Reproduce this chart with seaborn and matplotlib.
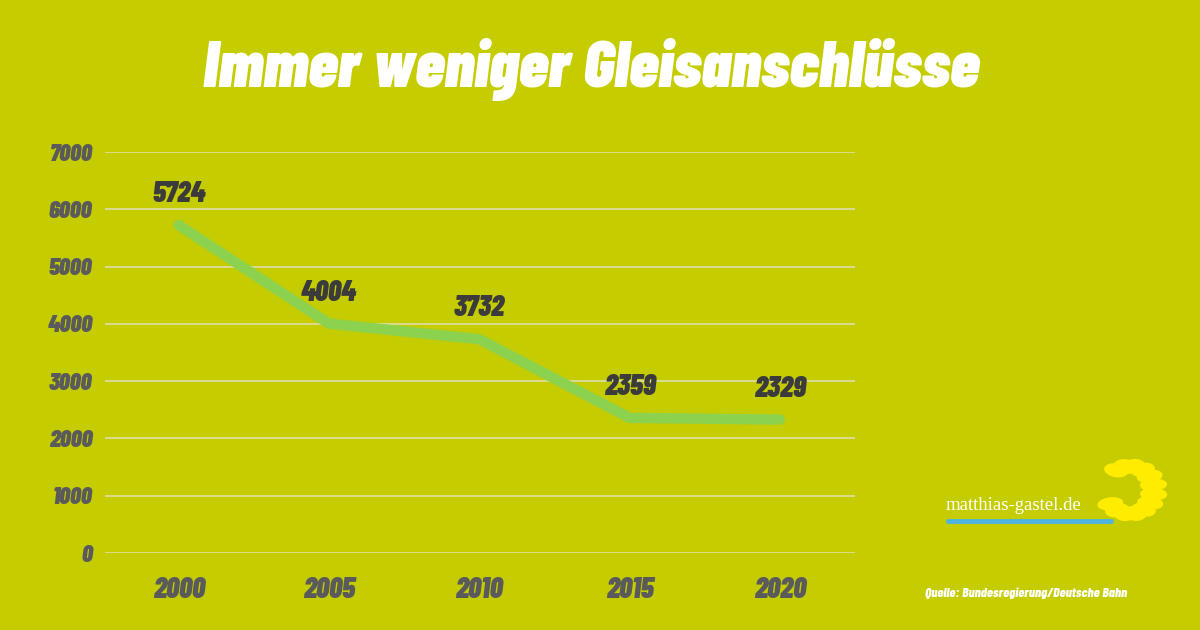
import numpy as np
import pandas as pd
import seaborn as sns
import matplotlib.pyplot as plt
from matplotlib.patches import Ellipse
from matplotlib import font_manager

# data
years = ['2000', '2005', '2010', '2015', '2020']
anschluesse = [5724, 4004, 3732, 2359, 2329]
y_ticks = [0, 1000, 2000, 3000, 4000, 5000, 6000, 7000]

df = pd.DataFrame({'pos': range(len(years)), 'year': years, 'value': anschluesse})

bg = '#c5cc00'
names = {f.name for f in font_manager.fontManager.ttflist}
cond = 'DejaVu Sans'
for cand in ['Barlow Condensed', 'Fira Sans Extra Condensed', 'Roboto Condensed', 'Anton', 'Oswald']:
    if cand in names:
        cond = cand
        break

sns.set_theme(style='white')
plt.rcParams['font.family'] = [cond, 'DejaVu Sans']

fig = plt.figure(figsize=(12, 6.3), dpi=100, facecolor=bg)
ax = fig.add_axes([0.0875, 0.1222, 0.625, 0.6365])
ax.set_facecolor(bg)

sns.lineplot(data=df, x='pos', y='value', ax=ax, color='#8dd24e', linewidth=7.5,
             solid_capstyle='round', solid_joinstyle='round', zorder=3)

for _, r in df.iterrows():
    ax.annotate(str(r['value']), (r['pos'], r['value']), xytext=(0, 13), textcoords='offset points',
                ha='center', va='bottom', fontsize=21, fontweight=900, fontstyle='italic',
                color='#3b3b3b')

ax.set_xlim(-0.49, 4.5)
ax.set_ylim(0, 7000)
ax.set_yticks(y_ticks)
ax.set_yticklabels([str(t) for t in y_ticks])
ax.set_xticks(df['pos'])
ax.set_xticklabels(years)
ax.tick_params(axis='y', length=0, pad=9, labelsize=17.5, labelcolor='#5a5a5a')
ax.tick_params(axis='x', length=0, pad=17, labelsize=21, labelcolor='#5a5a5a')
for lab in ax.get_xticklabels() + ax.get_yticklabels():
    lab.set_fontweight(900)
    lab.set_fontstyle('italic')
ax.grid(axis='y', color='#dcdca0', linewidth=1.3)
ax.set_axisbelow(True)
sns.despine(ax=ax, left=True, bottom=True, top=True, right=True)
ax.set_xlabel('')
ax.set_ylabel('')

fig.text(0.493, 0.89, 'Immer weniger Gleisanschlüsse', ha='center', va='center', color='white',
         fontsize=48, fontweight=900, fontstyle='italic')

fig.text(0.788, 0.198, 'matthias-gastel.de', ha='left', va='center', color='white',
         fontsize=13.5, family=['Liberation Serif', 'DejaVu Serif'])
fig.add_artist(plt.Line2D([0.79, 0.926], [0.173, 0.173], color='#4db3e0', linewidth=3.5))

# sunflower sketch
cx, cy = 1130, 140
for ang in np.linspace(-145, 125, 13):
    a = np.deg2rad(ang)
    px, py = cx + 24 * np.cos(a), cy + 24 * np.sin(a)
    fig.add_artist(Ellipse((px / 1200, py / 630), 26 / 1200, 11 / 630, angle=ang,
                           color='#ffec00', transform=fig.transFigure))

fig.text(0.855, 0.058, 'Quelle: Bundesregierung/Deutsche Bahn', ha='center', va='center',
         color='white', fontsize=10, fontweight=800, fontstyle='italic')

fig.savefig('out.png', dpi=100, facecolor=bg)
